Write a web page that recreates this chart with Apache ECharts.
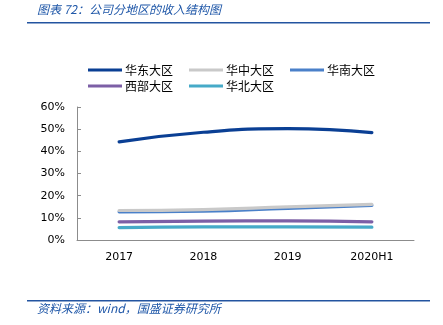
<!DOCTYPE html>
<html><head><meta charset="utf-8">
<script src="https://cdn.jsdelivr.net/npm/echarts@6/dist/echarts.min.js"></script>
<style>html,body{margin:0;padding:0;background:#fff}#c{width:443px;height:325px}</style>
</head><body><div id="c"></div>
<script>
var categories = ['2017','2018','2019','2020H1'];
var eastChina = [44.3, 48.6, 50.2, 48.4];
var centralChina = [13.3, 13.7, 14.9, 16.1];
var southChina = [12.7, 13.0, 14.3, 15.6];
var westChina = [8.2, 8.5, 8.6, 8.2];
var northChina = [5.6, 5.9, 5.9, 5.8];
var seriesNames = ['华东大区','华中大区','华南大区','西部大区','华北大区'];
var yTicks = [0, 10, 20, 30, 40, 50, 60];

var colors = ['#0A3F94','#C9C9C9','#4A80C9','#7C5FA6','#46AAC8'];
var values = [eastChina, centralChina, southChina, westChina, northChina];
var font = 'DejaVu Sans';
var chart = echarts.init(document.getElementById('c'));
var series = seriesNames.map(function(n, i){
  return {name:n, type:'line', smooth:true, symbol:'none', data:values[i],
    lineStyle:{width:3.2, color:colors[i], cap:'round'}, itemStyle:{color:colors[i]}, z: 10 - i};
});
var legendCommon = {icon:'rect', itemWidth:34, itemHeight:3, itemGap:16,
  textStyle:{fontSize:12, color:'#000', fontFamily:'Noto Sans CJK SC', padding:[0,0,0,-2]}};
chart.setOption({
  animation:false,
  color: colors,
  legend:[
    Object.assign({left:83, top:59, data:seriesNames.slice(0,3)}, legendCommon),
    Object.assign({left:83, top:75, data:seriesNames.slice(3)}, legendCommon)
  ],
  grid:{left:77, right:29, top:107, bottom:85},
  xAxis:{type:'category', data:categories, boundaryGap:true,
    axisLine:{lineStyle:{color:'#8c8c8c', width:1}},
    axisTick:{inside:true, length:4, lineStyle:{color:'#8c8c8c'}},
    axisLabel:{color:'#000', fontSize:11, fontFamily:font, margin:12}},
  yAxis:{type:'value', min:yTicks[0], max:yTicks[yTicks.length-1], interval:10,
    splitLine:{show:false},
    axisLine:{show:true, lineStyle:{color:'#8c8c8c', width:1}},
    axisTick:{show:true, inside:true, length:4, lineStyle:{color:'#8c8c8c'}},
    axisLabel:{color:'#000', fontSize:11, fontFamily:font, margin:12, formatter:function(v){return v+'%';}}},
  series: series,
  graphic:[
    {type:'text', left:37, top:3, style:{text:'图表 72：公司分地区的收入结构图', fill:'#1F57A8',
      font:'italic 12px "Noto Sans CJK SC"'}},
    {type:'rect', shape:{x:27, y:22, width:403, height:1.5}, style:{fill:'#2354A0'}},
    {type:'rect', shape:{x:27, y:300, width:403, height:1.5}, style:{fill:'#2354A0'}},
    {type:'text', left:37, top:302, style:{text:'资料来源：wind，国盛证券研究所', fill:'#1F57A8',
      font:'italic 12px "Noto Sans CJK SC"'}}
  ]
});
</script></body></html>
